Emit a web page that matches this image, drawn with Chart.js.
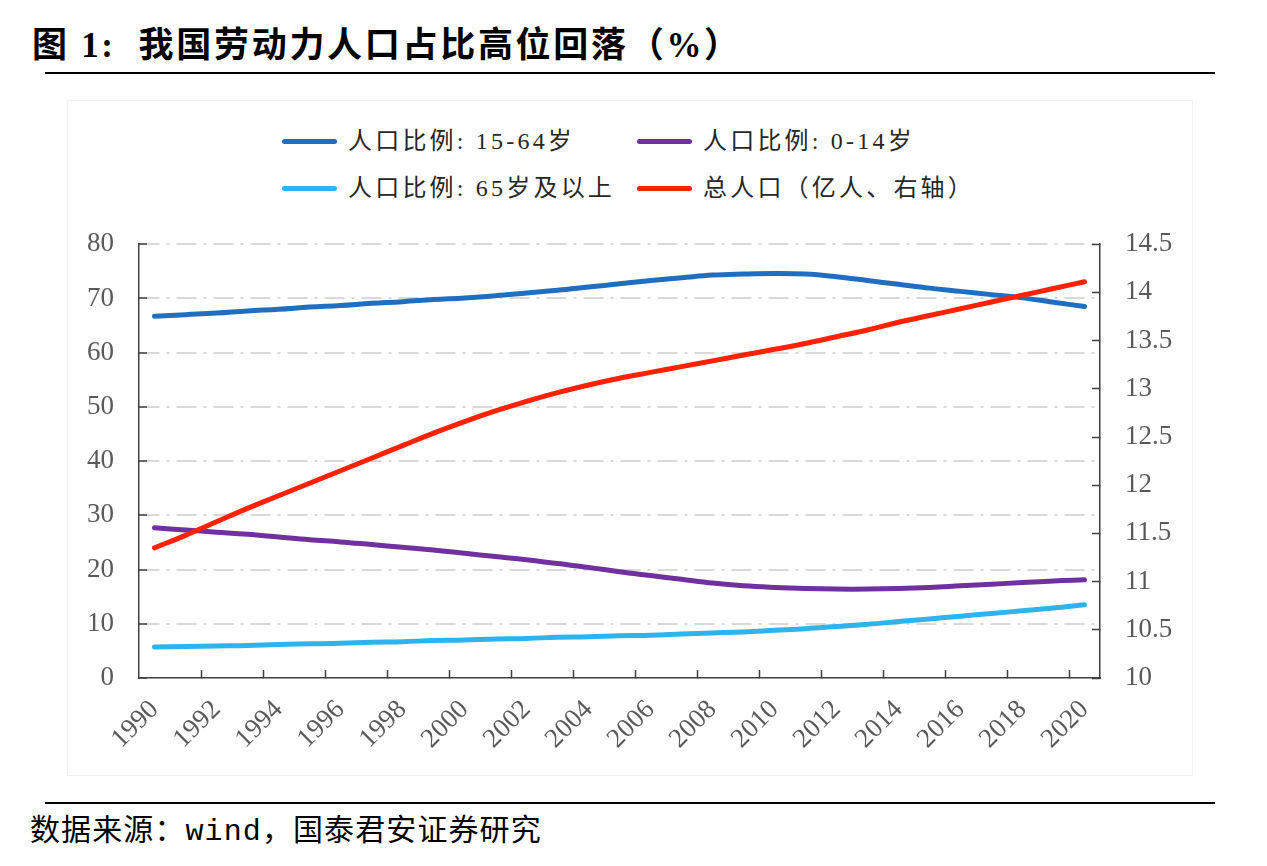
<!DOCTYPE html>
<html>
<head>
<meta charset="utf-8">
<title>我国劳动力人口占比高位回落</title>
<script src="https://cdn.jsdelivr.net/npm/chart.js@4.4.1/dist/chart.umd.min.js"></script>
<style>
    html, body { margin: 0; padding: 0; background: #fff; }
    body { width: 1267px; height: 866px; position: relative; overflow: hidden; }
    #title {
        position: absolute; left: 32px; top: 26px;
        font: bold 35px/40px 'Liberation Serif', 'Noto Sans CJK SC', serif;
        letter-spacing: 2.7px; color: #000; white-space: pre;
    }
    .rule { position: absolute; left: 45px; width: 1170px; height: 2px; background: #000; }
    #frame {
        position: absolute; left: 67px; top: 100px; width: 1124px; height: 674px;
        border: 1px solid #f2f2f2;
    }
    #legend {
        position: absolute; left: 282px; top: 118px;
        display: grid; grid-template-columns: 355px auto; grid-auto-rows: 47px;
        font: 24px/47px 'Liberation Serif', 'Noto Sans CJK SC', serif;
        letter-spacing: 3.2px; color: #262626;
    }
    #legend .item { display: flex; align-items: center; white-space: nowrap; }
    #legend .swatch { display: inline-block; width: 55px; height: 5px; border-radius: 3px; margin-right: 11px; }
    #wrap { position: absolute; left: 60px; top: 195px; width: 1150px; height: 590px; }
    #source {
        position: absolute; left: 30px; top: 815px;
        font: 30px/34px 'Liberation Mono', 'Noto Sans CJK SC', monospace;
        letter-spacing: 1.1px; color: #000; white-space: pre;
    }
</style>
</head>
<body>
<div id="title">图 1:  我国劳动力人口占比高位回落（%）</div>
<div class="rule" style="top:72px"></div>
<div id="frame"></div>
<div id="legend"></div>
<div id="wrap"><canvas id="popChart"></canvas></div>
<div class="rule" style="top:802px"></div>
<div id="source">数据来源：wind，国泰君安证券研究</div>

<script>
// ─── Data ────────────────────────────────────────────────────────────────────
const years = ['1990', '1991', '1992', '1993', '1994', '1995', '1996', '1997', '1998', '1999',
               '2000', '2001', '2002', '2003', '2004', '2005', '2006', '2007', '2008', '2009',
               '2010', '2011', '2012', '2013', '2014', '2015', '2016', '2017', '2018', '2019', '2020'];

// 人口比例 %, left axis
const share15to64 = [66.7, 67.0, 67.3, 67.7, 68.0, 68.4, 68.7, 69.1, 69.4, 69.8,
                     70.1, 70.5, 71.0, 71.5, 72.1, 72.7, 73.3, 73.8, 74.3, 74.5,
                     74.6, 74.5, 74.0, 73.3, 72.6, 71.9, 71.3, 70.7, 70.1, 69.3, 68.5];
const share0to14  = [27.7, 27.3, 26.9, 26.5, 26.0, 25.5, 25.1, 24.6, 24.1, 23.6,
                     23.0, 22.4, 21.8, 21.1, 20.4, 19.6, 18.9, 18.2, 17.5, 17.0,
                     16.7, 16.5, 16.4, 16.4, 16.5, 16.7, 17.0, 17.3, 17.6, 17.9, 18.1];
const share65plus = [5.7, 5.8, 5.9, 6.0, 6.2, 6.3, 6.4, 6.6, 6.7, 6.9,
                     7.0, 7.2, 7.3, 7.5, 7.6, 7.8, 7.9, 8.1, 8.3, 8.5,
                     8.8, 9.1, 9.5, 9.9, 10.4, 10.9, 11.4, 11.9, 12.4, 12.9, 13.5];

// 总人口 亿人, right axis
const totalPop = [11.35, 11.48, 11.62, 11.76, 11.89, 12.02, 12.15, 12.28, 12.41, 12.54,
                  12.66, 12.77, 12.87, 12.96, 13.04, 13.11, 13.17, 13.23, 13.29, 13.35,
                  13.41, 13.47, 13.54, 13.61, 13.69, 13.76, 13.83, 13.90, 13.97, 14.04, 14.11];

const leftTicks  = { min: 0, max: 80, step: 10 };
const rightTicks = { min: 10, max: 14.5, step: 0.5 };

// ─── Styles ──────────────────────────────────────────────────────────────────
const AXIS_COLOR = '#404040';
const GRID_COLOR = '#d9d9d9';
const TICK_FONT  = { family: "'Liberation Serif', 'Times New Roman', serif", size: 27 };
const TICK_COLOR = '#595959';

function lineSet(label, data, color, axis, order) {
    return {
        label, data, yAxisID: axis, order,
        borderColor: color, backgroundColor: color,
        borderWidth: 5, borderCapStyle: 'round', borderJoinStyle: 'round',
        tension: 0.4, pointRadius: 0, fill: false
    };
}

const chart = new Chart(document.getElementById('popChart'), {
    type: 'line',
    data: {
        labels: years,
        datasets: [
            lineSet('人口比例: 15-64岁',      share15to64, '#1F6EC0', 'y',  1),
            lineSet('人口比例: 0-14岁',       share0to14,  '#7030A0', 'y',  2),
            lineSet('人口比例: 65岁及以上',   share65plus, '#2DB3EE', 'y',  3),
            lineSet('总人口（亿人、右轴）',   totalPop,    '#FF2200', 'y2', 0)
        ]
    },
    options: {
        responsive: true,
        maintainAspectRatio: false,
        animation: false,
        layout: { padding: { top: 17, left: 0, right: 0, bottom: 0 } },
        plugins: {
            legend: { display: false },
            tooltip: { enabled: false }
        },
        scales: {
            x: {
                type: 'category',
                offset: true,
                grid: {
                    offset: true,
                    drawOnChartArea: false,
                    tickLength: -8,
                    tickWidth: 1.5,
                    tickColor: ctx => (ctx.index > 0 && ctx.index % 2 === 0) ? AXIS_COLOR : 'rgba(0,0,0,0)'
                },
                border: { display: true, color: AXIS_COLOR, width: 1.5 },
                ticks: {
                    autoSkip: false,
                    minRotation: 45, maxRotation: 45,
                    padding: 24,
                    font: TICK_FONT, color: TICK_COLOR,
                    callback: (val, i) => i % 2 === 0 ? years[i] : ''
                },
                afterFit: s => { s.height = 107; }
            },
            y: {
                position: 'left',
                min: leftTicks.min, max: leftTicks.max,
                grid: {
                    color: ctx => ctx.tick && ctx.tick.value === 0 ? 'rgba(0,0,0,0)' : GRID_COLOR,
                    lineWidth: 2,
                    tickLength: -8,
                    tickColor: AXIS_COLOR,
                    tickWidth: 1.5,
                    tickBorderDash: []
                },
                border: { display: true, color: AXIS_COLOR, width: 1.5, dash: [20, 7, 3, 7] },
                ticks: { stepSize: leftTicks.step, padding: 33, font: TICK_FONT, color: TICK_COLOR },
                afterFit: s => { s.width = 79; }
            },
            y2: {
                position: 'right',
                min: rightTicks.min, max: rightTicks.max,
                grid: {
                    drawOnChartArea: false,
                    tickLength: -8,
                    tickColor: AXIS_COLOR,
                    tickWidth: 1.5
                },
                border: { display: true, color: AXIS_COLOR, width: 1.5 },
                ticks: {
                    stepSize: rightTicks.step, padding: 33, font: TICK_FONT, color: TICK_COLOR,
                    callback: v => String(v)
                },
                afterFit: s => { s.width = 110; }
            }
        }
    }
});

// ─── HTML legend, two aligned columns ────────────────────────────────────────
const legendBox = document.getElementById('legend');
chart.data.datasets.forEach(ds => {
    const item = document.createElement('div');
    item.className = 'item';
    const sw = document.createElement('span');
    sw.className = 'swatch';
    sw.style.background = ds.borderColor;
    const txt = document.createElement('span');
    txt.textContent = ds.label;
    item.appendChild(sw);
    item.appendChild(txt);
    legendBox.appendChild(item);
});
</script>
</body>
</html>
